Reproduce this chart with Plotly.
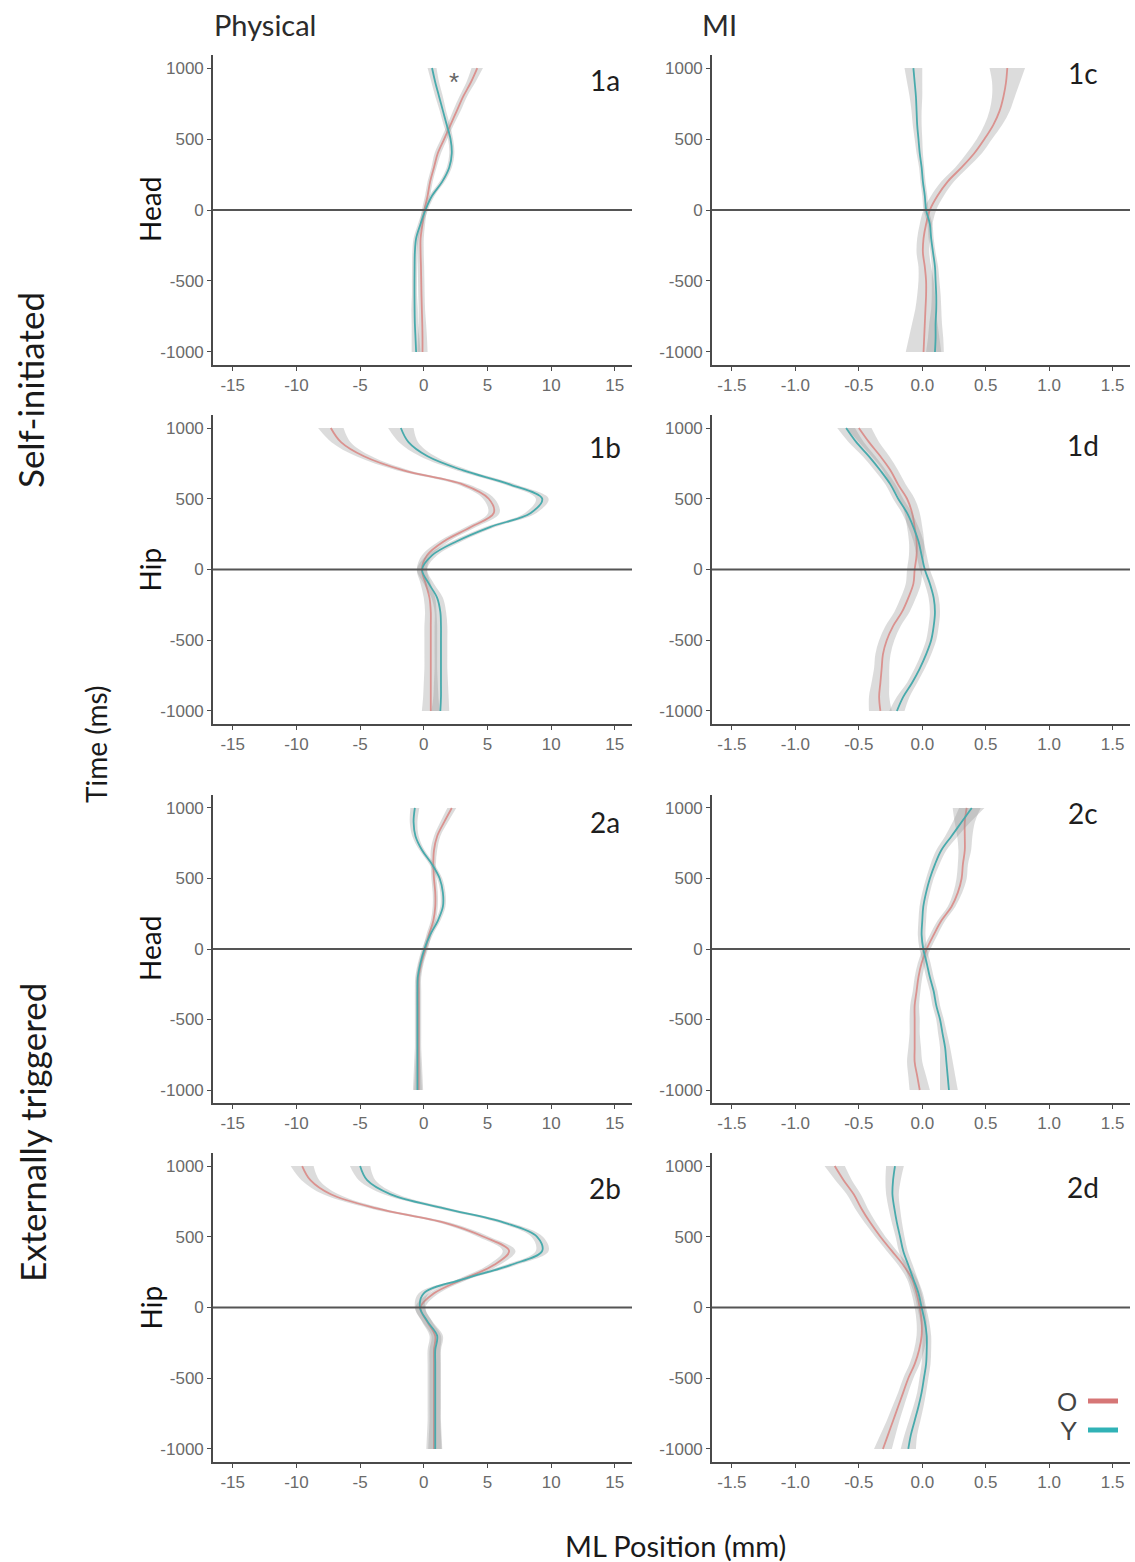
import plotly.graph_objects as go
from plotly.subplots import make_subplots

W, H = 1135, 1562

time_ms = [-1000, -900, -800, -700, -600, -500, -400, -300, -200, -100, 0,
           100, 200, 300, 400, 500, 600, 700, 800, 900, 1000]

# ---- Panel 1a (Self-initiated, Head, Physical) ----
O_1a = [-0.1, -0.1, -0.12, -0.15, -0.18, -0.2, -0.22, -0.25, -0.25, -0.1, 0.05,
        0.3, 0.5, 0.8, 1.1, 1.6, 2.1, 2.6, 3.1, 3.7, 4.2]
Y_1a = [-0.6, -0.65, -0.7, -0.72, -0.73, -0.73, -0.72, -0.7, -0.6, -0.26, 0.13,
        0.65, 1.45, 2.0, 2.2, 2.1, 1.8, 1.5, 1.2, 0.9, 0.65]
SE_O_1a = [0.4, 0.35, 0.3, 0.25, 0.25, 0.25, 0.25, 0.25, 0.25, 0.2, 0.2,
           0.2, 0.2, 0.2, 0.25, 0.25, 0.25, 0.3, 0.3, 0.35, 0.45]
SE_Y_1a = [0.35, 0.3, 0.25, 0.25, 0.2, 0.2, 0.2, 0.2, 0.2, 0.2, 0.2,
           0.2, 0.2, 0.2, 0.2, 0.2, 0.25, 0.25, 0.3, 0.3, 0.35]

# ---- Panel 1b (Self-initiated, Hip, Physical) ----
O_1b = [0.55, 0.55, 0.55, 0.55, 0.55, 0.55, 0.55, 0.55, 0.45, 0.15, -0.15,
        0.26, 1.6, 3.7, 5.5, 5.1, 3.1, -1.6, -4.7, -6.5, -7.3]
Y_1b = [1.3, 1.35, 1.35, 1.35, 1.35, 1.35, 1.35, 1.3, 1.05, 0.4, -0.13,
        0.65, 2.6, 5.2, 8.4, 9.3, 6.8, 3.1, 0.3, -1.2, -1.8]
SE_O_1b = [0.7, 0.6, 0.55, 0.5, 0.5, 0.5, 0.5, 0.45, 0.45, 0.4, 0.4,
           0.4, 0.4, 0.4, 0.45, 0.45, 0.45, 0.5, 0.6, 0.75, 1.0]
SE_Y_1b = [0.7, 0.6, 0.55, 0.5, 0.5, 0.5, 0.5, 0.45, 0.45, 0.4, 0.4,
           0.4, 0.4, 0.4, 0.45, 0.5, 0.45, 0.5, 0.6, 0.75, 1.0]

# ---- Panel 1c (Self-initiated, Head, MI) ----
O_1c = [0.01, 0.015, 0.02, 0.025, 0.03, 0.03, 0.02, 0.005, 0.01, 0.03, 0.06,
        0.12, 0.2, 0.31, 0.41, 0.49, 0.56, 0.61, 0.64, 0.66, 0.67]
Y_1c = [0.1, 0.105, 0.105, 0.11, 0.11, 0.105, 0.1, 0.085, 0.07, 0.06, 0.03,
        0.02, 0.005, -0.005, -0.02, -0.03, -0.04, -0.045, -0.05, -0.06, -0.07]
SE_O_1c = [0.14, 0.12, 0.1, 0.08, 0.07, 0.06, 0.05, 0.05, 0.05, 0.05, 0.05,
           0.05, 0.05, 0.05, 0.06, 0.06, 0.07, 0.08, 0.09, 0.11, 0.14]
SE_Y_1c = [0.07, 0.06, 0.05, 0.04, 0.035, 0.03, 0.025, 0.02, 0.02, 0.02, 0.02,
           0.02, 0.02, 0.02, 0.025, 0.03, 0.035, 0.04, 0.05, 0.06, 0.07]

# ---- Panel 1d (Self-initiated, Hip, MI) ----
O_1d = [-0.33, -0.34, -0.33, -0.32, -0.31, -0.28, -0.23, -0.16, -0.11, -0.07, -0.06,
        -0.045, -0.045, -0.06, -0.08, -0.12, -0.19, -0.25, -0.33, -0.42, -0.5]
Y_1d = [-0.2, -0.15, -0.08, -0.02, 0.03, 0.07, 0.09, 0.1, 0.09, 0.06, 0.02,
        -0.005, -0.03, -0.07, -0.12, -0.19, -0.25, -0.33, -0.42, -0.52, -0.6]
SE_O_1d = [0.09, 0.08, 0.07, 0.06, 0.06, 0.06, 0.06, 0.06, 0.06, 0.06, 0.06,
           0.06, 0.06, 0.06, 0.06, 0.06, 0.06, 0.06, 0.07, 0.08, 0.1]
SE_Y_1d = [0.06, 0.05, 0.04, 0.04, 0.04, 0.04, 0.04, 0.04, 0.04, 0.04, 0.04,
           0.04, 0.04, 0.04, 0.04, 0.04, 0.04, 0.045, 0.05, 0.06, 0.07]

# ---- Panel 2a (Externally triggered, Head, Physical) ----
O_2a = [-0.4, -0.4, -0.4, -0.4, -0.4, -0.4, -0.4, -0.4, -0.4, -0.2, 0.13,
        0.4, 0.75, 0.9, 0.9, 0.8, 0.75, 0.8, 1.05, 1.6, 2.2]
Y_2a = [-0.5, -0.5, -0.5, -0.5, -0.5, -0.5, -0.5, -0.5, -0.47, -0.26, 0.05,
        0.5, 1.1, 1.5, 1.5, 1.25, 0.65, -0.13, -0.65, -0.8, -0.7]
SE_O_2a = [0.35, 0.3, 0.25, 0.2, 0.2, 0.2, 0.2, 0.2, 0.2, 0.2, 0.2,
           0.2, 0.2, 0.2, 0.2, 0.2, 0.2, 0.25, 0.25, 0.3, 0.35]
SE_Y_2a = [0.35, 0.3, 0.25, 0.2, 0.2, 0.2, 0.2, 0.2, 0.2, 0.2, 0.2,
           0.2, 0.2, 0.2, 0.2, 0.2, 0.2, 0.2, 0.25, 0.3, 0.35]

# ---- Panel 2b (Externally triggered, Hip, Physical) ----
O_2b = [0.8, 0.8, 0.8, 0.8, 0.8, 0.8, 0.8, 0.8, 0.9, 0.26, -0.26,
        0.8, 3.1, 5.5, 6.7, 4.7, 1.6, -3.7, -7.3, -8.9, -9.55]
Y_2b = [0.9, 0.9, 0.9, 0.9, 0.9, 0.9, 0.9, 0.9, 1.05, 0.3, -0.3,
        0.0, 3.1, 6.8, 9.3, 8.9, 6.3, 1.6, -2.6, -4.45, -5.0]
SE_O_2b = [0.6, 0.55, 0.5, 0.5, 0.5, 0.5, 0.5, 0.5, 0.45, 0.4, 0.4,
           0.4, 0.4, 0.45, 0.5, 0.45, 0.45, 0.5, 0.6, 0.7, 0.9]
SE_Y_2b = [0.55, 0.5, 0.45, 0.45, 0.45, 0.45, 0.45, 0.45, 0.45, 0.4, 0.4,
           0.4, 0.4, 0.45, 0.5, 0.45, 0.45, 0.5, 0.55, 0.65, 0.8]

# ---- Panel 2c (Externally triggered, Head, MI) ----
O_2c = [-0.02, -0.04, -0.06, -0.06, -0.06, -0.06, -0.06, -0.045, -0.03, -0.005, 0.035,
        0.09, 0.15, 0.23, 0.28, 0.31, 0.32, 0.335, 0.335, 0.335, 0.35]
Y_2c = [0.21, 0.2, 0.19, 0.18, 0.16, 0.14, 0.11, 0.09, 0.06, 0.035, 0.008,
        -0.005, 0.0, 0.008, 0.03, 0.06, 0.1, 0.15, 0.23, 0.31, 0.39]
SE_O_2c = [0.08, 0.07, 0.06, 0.05, 0.04, 0.04, 0.035, 0.03, 0.03, 0.03, 0.03,
           0.03, 0.03, 0.03, 0.035, 0.04, 0.04, 0.05, 0.06, 0.08, 0.11]
SE_Y_2c = [0.07, 0.06, 0.05, 0.04, 0.035, 0.03, 0.03, 0.03, 0.03, 0.03, 0.03,
           0.03, 0.03, 0.03, 0.03, 0.03, 0.035, 0.04, 0.05, 0.07, 0.1]

# ---- Panel 2d (Externally triggered, Hip, MI) ----
O_2d = [-0.31, -0.27, -0.23, -0.19, -0.15, -0.11, -0.06, -0.025, -0.005, -0.005, -0.02,
        -0.045, -0.08, -0.15, -0.24, -0.33, -0.41, -0.48, -0.54, -0.62, -0.69]
Y_2d = [-0.11, -0.09, -0.06, -0.03, -0.005, 0.013, 0.03, 0.035, 0.035, 0.02, -0.005,
        -0.03, -0.07, -0.11, -0.15, -0.175, -0.2, -0.22, -0.235, -0.23, -0.215]
SE_O_2d = [0.07, 0.06, 0.05, 0.045, 0.04, 0.04, 0.04, 0.04, 0.04, 0.04, 0.04,
           0.04, 0.04, 0.04, 0.04, 0.04, 0.045, 0.05, 0.055, 0.065, 0.08]
SE_Y_2d = [0.06, 0.05, 0.045, 0.04, 0.035, 0.035, 0.035, 0.035, 0.035, 0.035, 0.035,
           0.035, 0.035, 0.035, 0.035, 0.035, 0.04, 0.045, 0.05, 0.06, 0.07]

y_ticks = [-1000, -500, 0, 500, 1000]
y_tick_text = ["-1000", "-500", "0", "500", "1000"]
phys_ticks = [-15, -10, -5, 0, 5, 10, 15]
phys_tick_text = ["-15", "-10", "-5", "0", "5", "10", "15"]
mi_ticks = [-1.5, -1.0, -0.5, 0.0, 0.5, 1.0, 1.5]
mi_tick_text = ["-1.5", "-1.0", "-0.5", "0.0", "0.5", "1.0", "1.5"]
group_labels = ["O", "Y"]
col_titles = ["Physical", "MI"]
row_titles = ["Head", "Hip", "Head", "Hip"]
cond_titles = ["Self-initiated", "Externally triggered"]

O_LINE = "rgb(218,146,143)"
Y_LINE = "rgb(72,170,172)"
RIBBON = "rgba(150,150,150,0.33)"
AX = "#4a4a4a"
TICKF = dict(family="Liberation Sans, Arial, sans-serif", size=17, color="#6a6a6a")
LAB = "Lato, 'Open Sans', sans-serif"

panels = [
    ("1a", 1, 1, O_1a, SE_O_1a, Y_1a, SE_Y_1a),
    ("1c", 1, 2, O_1c, SE_O_1c, Y_1c, SE_Y_1c),
    ("1b", 2, 1, O_1b, SE_O_1b, Y_1b, SE_Y_1b),
    ("1d", 2, 2, O_1d, SE_O_1d, Y_1d, SE_Y_1d),
    ("2a", 3, 1, O_2a, SE_O_2a, Y_2a, SE_Y_2a),
    ("2c", 3, 2, O_2c, SE_O_2c, Y_2c, SE_Y_2c),
    ("2b", 4, 1, O_2b, SE_O_2b, Y_2b, SE_Y_2b),
    ("2d", 4, 2, O_2d, SE_O_2d, Y_2d, SE_Y_2d),
]

fig = make_subplots(rows=4, cols=2)

# pixel layout of plot areas
col_px = {1: (213, 632), 2: (712, 1130)}
row_px = {1: (55, 365), 2: (415, 724), 3: (795, 1103), 4: (1153, 1462)}
label_px = {"1a": (605, 80), "1c": (1083, 73), "1b": (605, 447), "1d": (1083, 445),
            "2a": (605, 822), "2c": (1083, 813), "2b": (605, 1188), "2d": (1083, 1187)}


def px(x):
    return x / W


def py(y):
    return 1 - y / H


def add_group(mean, se, color, r, c):
    lo = [m - s for m, s in zip(mean, se)]
    hi = [m + s for m, s in zip(mean, se)]
    fig.add_trace(go.Scatter(x=lo, y=time_ms, mode="lines", line=dict(width=0, shape="spline"),
                             showlegend=False, hoverinfo="skip"), row=r, col=c)
    fig.add_trace(go.Scatter(x=hi, y=time_ms, mode="lines", line=dict(width=0, shape="spline"),
                             fill="tonextx", fillcolor=RIBBON, showlegend=False,
                             hoverinfo="skip"), row=r, col=c)
    fig.add_trace(go.Scatter(x=mean, y=time_ms, mode="lines",
                             line=dict(color=color, width=1.8, shape="spline"),
                             showlegend=False), row=r, col=c)


annotations = []
shapes = []
for name, r, c, om, ose, ym, yse in panels:
    add_group(om, ose, O_LINE, r, c)
    add_group(ym, yse, Y_LINE, r, c)
    idx = (r - 1) * 2 + c
    xa = "xaxis" if idx == 1 else f"xaxis{idx}"
    ya = "yaxis" if idx == 1 else f"yaxis{idx}"
    x0, x1 = col_px[c]
    y0, y1 = row_px[r]
    if c == 1:
        xr, xt, xtt = [-16.55, 16.35], phys_ticks, phys_tick_text
    else:
        xr, xt, xtt = [-1.657, 1.637], mi_ticks, mi_tick_text
    fig.layout[xa].update(domain=[px(x0), px(x1)], range=xr, tickvals=xt, ticktext=xtt,
                          showline=True, linecolor=AX, linewidth=1.6,
                          ticks="outside", ticklen=4, tickcolor=AX, tickwidth=1.2,
                          showgrid=False, zeroline=False, tickfont=TICKF)
    fig.layout[ya].update(domain=[py(y1), py(y0)], range=[-1092, 1092], tickvals=y_ticks,
                          ticktext=y_tick_text, showline=True, linecolor=AX, linewidth=1.6,
                          ticks="outside", ticklen=4, tickcolor=AX, tickwidth=1.2,
                          showgrid=False, zeroline=False, tickfont=TICKF)
    xref = "x" if idx == 1 else f"x{idx}"
    yref = "y" if idx == 1 else f"y{idx}"
    shapes.append(dict(type="line", xref=f"{xref} domain", yref=yref, x0=0, x1=1,
                       y0=0, y1=0, line=dict(color="#555555", width=1.8), layer="above"))
    lx, ly = label_px[name]
    annotations.append(dict(text=name, x=px(lx), y=py(ly), xref="paper", yref="paper",
                            showarrow=False, xanchor="center", yanchor="middle",
                            font=dict(family=LAB, size=28, color="#1e1e1e")))

# significance marker in 1a
annotations.append(dict(text="*", x=2.4, y=905, xref="x", yref="y", showarrow=False,
                        xanchor="center", yanchor="middle",
                        font=dict(family="Liberation Sans, Arial", size=26, color="#666666")))

# column titles
annotations.append(dict(text=col_titles[0], x=px(212), y=py(25), xref="paper", yref="paper",
                        showarrow=False, xanchor="left", yanchor="middle",
                        font=dict(family=LAB, size=29, color="#2b2b2b")))
annotations.append(dict(text=col_titles[1], x=px(700), y=py(25), xref="paper", yref="paper",
                        showarrow=False, xanchor="left", yanchor="middle",
                        font=dict(family=LAB, size=29, color="#2b2b2b")))

# row titles
for r, t in zip([1, 2, 3, 4], row_titles):
    y0, y1 = row_px[r]
    annotations.append(dict(text=t, x=px(150), y=py((y0 + y1) / 2), xref="paper", yref="paper",
                            showarrow=False, textangle=-90, xanchor="center", yanchor="middle",
                            font=dict(family=LAB, size=28, color="#111111")))

annotations.append(dict(text=cond_titles[0], x=px(30), y=py(390), xref="paper", yref="paper",
                        showarrow=False, textangle=-90, xanchor="center", yanchor="middle",
                        font=dict(family=LAB, size=35, color="#1a1a1a")))
annotations.append(dict(text=cond_titles[1], x=px(32), y=py(1133), xref="paper", yref="paper",
                        showarrow=False, textangle=-90, xanchor="center", yanchor="middle",
                        font=dict(family=LAB, size=35, color="#1a1a1a")))

annotations.append(dict(text="Time (ms)", x=px(96), y=py(745), xref="paper", yref="paper",
                        showarrow=False, textangle=-90, xanchor="center", yanchor="middle",
                        font=dict(family=LAB, size=28, color="#1a1a1a")))
annotations.append(dict(text="ML Position (mm)", x=px(675), y=py(1545), xref="paper", yref="paper",
                        showarrow=False, xanchor="center", yanchor="middle",
                        font=dict(family=LAB, size=29, color="#1a1a1a")))

# legend (manual, text left of key)
leg_colors = ["rgb(214,118,118)", "rgb(48,178,182)"]
for lab, col, ly in zip(group_labels, leg_colors, [1402, 1431]):
    annotations.append(dict(text=lab, x=px(1079), y=py(ly), xref="paper", yref="paper",
                            showarrow=False, xanchor="right", yanchor="middle",
                            font=dict(family="Liberation Sans, Arial", size=26, color="#444444")))
    shapes.append(dict(type="line", xref="paper", yref="paper", x0=px(1088), x1=px(1118),
                       y0=py(ly - 1), y1=py(ly - 1), line=dict(color=col, width=5)))

fig.update_layout(width=W, height=H, autosize=False, margin=dict(l=0, r=0, t=0, b=0),
                  paper_bgcolor="white", plot_bgcolor="white", showlegend=False,
                  annotations=annotations, shapes=shapes)

fig.write_html("out.html", config={"displayModeBar": False},
               post_script="document.body.style.margin='0';")
